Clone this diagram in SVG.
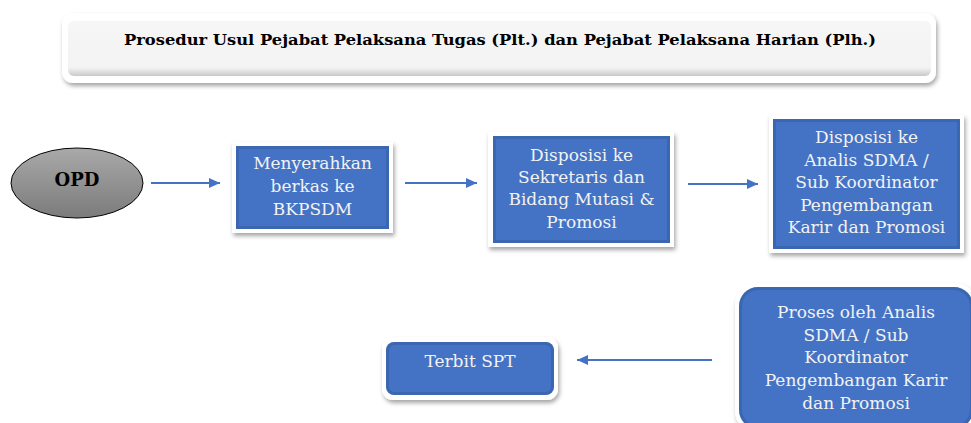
<svg xmlns="http://www.w3.org/2000/svg" width="971" height="423" viewBox="0 0 971 423">
  <defs>
    <filter id="shadow" x="-10%" y="-10%" width="130%" height="140%">
      <feDropShadow dx="1.5" dy="3" stdDeviation="2" flood-color="#000" flood-opacity="0.35"/>
    </filter>
    <linearGradient id="gray" x1="0" y1="0" x2="0" y2="1">
      <stop offset="0" stop-color="#a9a9a9"/>
      <stop offset="1" stop-color="#7b7b7b"/>
    </linearGradient>
    <linearGradient id="titleFill" x1="0" y1="0" x2="0" y2="1">
      <stop offset="0" stop-color="#f6f6f6"/>
      <stop offset="0.85" stop-color="#f3f3f3"/>
      <stop offset="1" stop-color="#c9c9c9"/>
    </linearGradient>
    <marker id="arrow" markerWidth="12" markerHeight="10" refX="11" refY="5" orient="auto" markerUnits="userSpaceOnUse">
      <path d="M0,0 L11,5 L0,10 Z" fill="#4472c4"/>
    </marker>
    <style>
      .frame { fill: #ffffff; filter: url(#shadow); }
      .blue { fill: #4472c4; }
      .bevel { fill: none; stroke: #2f5597; stroke-width: 3; stroke-opacity: 0.4; }
      .label { font-family: "DejaVu Serif", "Liberation Serif", serif; font-size: 17px; fill: #f2f2f2; text-anchor: middle; }
      .conn { stroke: #4472c4; stroke-width: 2.2; fill: none; marker-end: url(#arrow); }
    </style>
  </defs>

  <g id="title">
    <rect class="frame" x="62" y="13" width="874" height="70" rx="11"/>
    <rect x="68" y="21" width="863" height="55" rx="6" fill="url(#titleFill)"/>
    <text x="500" y="45" font-family="'DejaVu Serif', 'Liberation Serif', serif" font-weight="bold" font-size="15" fill="#000" text-anchor="middle" textLength="752" lengthAdjust="spacingAndGlyphs">Prosedur Usul Pejabat Pelaksana Tugas (Plt.) dan Pejabat Pelaksana Harian (Plh.)</text>
  </g>

  <g id="opd">
    <ellipse cx="77" cy="183" rx="66" ry="35" fill="url(#gray)" stroke="#000" stroke-width="1"/>
    <text x="77" y="186" font-family="'DejaVu Serif', 'Liberation Serif', serif" font-weight="bold" font-size="18" fill="#000" text-anchor="middle">OPD</text>
  </g>

  <g id="node1">
    <rect class="frame" x="232" y="142" width="161" height="91"/>
    <rect class="blue" x="236" y="146" width="153" height="83"/>
    <rect class="bevel" x="237.5" y="147.5" width="150" height="80"/>
    <text class="label" x="312.5" y="169">Menyerahkan</text>
    <text class="label" x="312.5" y="192">berkas ke</text>
    <text class="label" x="312.5" y="215">BKPSDM</text>
  </g>

  <g id="node2">
    <rect class="frame" x="488" y="132" width="186" height="115"/>
    <rect class="blue" x="493" y="136" width="177" height="107"/>
    <rect class="bevel" x="494.5" y="137.5" width="174" height="104"/>
    <text class="label" x="581.5" y="161">Disposisi ke</text>
    <text class="label" x="581.5" y="183">Sekretaris dan</text>
    <text class="label" x="581.5" y="205">Bidang Mutasi &amp;</text>
    <text class="label" x="581.5" y="228">Promosi</text>
  </g>

  <g id="node3">
    <rect class="frame" x="769" y="115" width="195" height="138"/>
    <rect class="blue" x="773" y="119" width="187" height="130"/>
    <rect class="bevel" x="774.5" y="120.5" width="184" height="127"/>
    <text class="label" x="866.5" y="143">Disposisi ke</text>
    <text class="label" x="866.5" y="165.5">Analis SDMA /</text>
    <text class="label" x="866.5" y="188">Sub Koordinator</text>
    <text class="label" x="866.5" y="210.5">Pengembangan</text>
    <text class="label" x="866.5" y="233">Karir dan Promosi</text>
  </g>

  <g id="node4">
    <rect class="frame" x="735" y="283" width="242" height="150" rx="22"/>
    <rect class="blue" x="739" y="287" width="234" height="142" rx="19"/>
    <rect class="bevel" x="740.5" y="288.5" width="231" height="139" rx="18"/>
    <text class="label" x="856" y="318">Proses oleh Analis</text>
    <text class="label" x="856" y="341">SDMA / Sub</text>
    <text class="label" x="856" y="363">Koordinator</text>
    <text class="label" x="856" y="386">Pengembangan Karir</text>
    <text class="label" x="856" y="409">dan Promosi</text>
  </g>

  <g id="node5">
    <rect class="frame" x="382" y="337" width="176" height="63" rx="11"/>
    <rect class="blue" x="386" y="342" width="168" height="53" rx="8"/>
    <rect class="bevel" x="387.5" y="343.5" width="165" height="50" rx="7"/>
    <text class="label" x="470" y="367">Terbit SPT</text>
  </g>

  <g id="connectors">
    <path class="conn" d="M151,183 H220"/>
    <path class="conn" d="M405,183 H477"/>
    <path class="conn" d="M688,184 H758"/>
    <path class="conn" d="M712,360 H577"/>
  </g>
</svg>
